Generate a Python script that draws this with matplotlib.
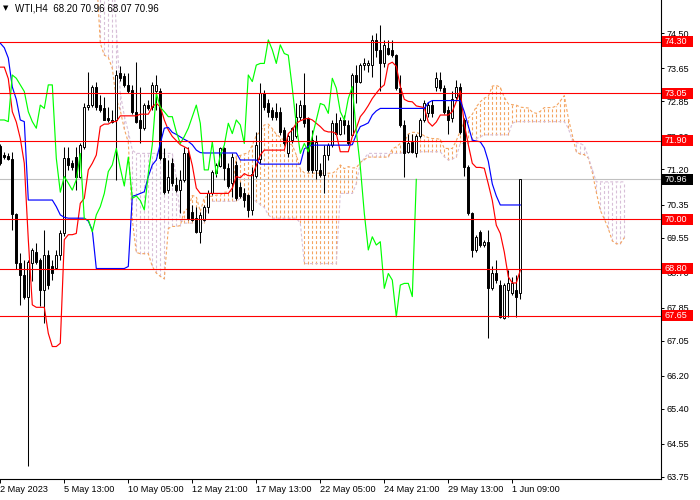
import matplotlib
matplotlib.use('Agg')
import matplotlib.pyplot as plt
import matplotlib.transforms as mtransforms
from matplotlib.patches import Rectangle
import numpy as np

plt.rcParams['font.family'] = ['Liberation Sans', 'DejaVu Sans']

# ---------------- data (WTI, H4) ----------------
opens = [
    71.77, 71.55, 71.53, 71.45, 70.11, 68.93, 68.64, 68.12, 68.93, 69.21,
    69.00, 68.28, 69.13, 68.85, 68.81, 69.13, 69.65, 71.47, 71.35, 71.51,
    71.03, 71.75, 72.72, 72.76, 73.21, 72.76, 72.68, 72.44, 72.40, 72.40,
    73.53, 73.47, 73.25, 73.13, 72.60, 72.40, 72.20, 72.76, 72.72, 73.09,
    73.09, 71.47, 70.70, 71.35, 70.83, 70.70, 70.95, 71.59, 70.18, 70.02,
    69.69, 69.98, 70.30, 70.62, 71.11, 71.28, 71.71, 71.23, 70.87, 71.31,
    70.78, 70.62, 70.58, 70.22, 71.05, 71.45, 73.05, 72.80, 72.64, 72.60,
    72.60, 72.16, 71.59, 71.91, 72.00, 72.48, 72.76, 72.44, 71.91, 71.19,
    71.19, 71.07, 71.55, 71.79, 72.32, 72.07, 72.40, 72.28, 72.04, 73.49,
    73.33, 73.73, 73.73, 73.73, 74.34, 74.10, 73.77, 74.14, 74.10, 73.97,
    73.17, 72.28, 71.63, 71.87, 71.59, 72.00, 72.40, 72.56, 72.76, 73.21,
    73.37, 73.17, 72.64, 72.44, 72.96, 73.21, 72.40, 71.27, 70.14, 69.25,
    69.69, 69.37, 69.45, 68.32, 68.68, 68.40, 67.59, 68.28, 68.20, 68.28,
    68.20]
highs = [
    71.82, 71.62, 71.60, 71.62, 70.15, 69.17, 69.00, 69.00, 69.29, 69.41,
    69.05, 69.73, 69.25, 69.00, 69.25, 69.73, 71.75, 71.75, 71.43, 71.75,
    71.83, 72.80, 73.57, 73.25, 73.33, 73.00, 72.96, 72.72, 72.64, 73.61,
    73.70, 73.53, 73.53, 73.25, 73.81, 73.21, 72.80, 72.88, 73.33, 73.49,
    73.17, 71.71, 71.43, 71.47, 71.03, 71.19, 71.75, 71.75, 70.34, 70.30,
    70.18, 70.34, 70.70, 71.19, 71.35, 71.75, 71.75, 71.35, 71.59, 71.40,
    70.90, 70.75, 70.60, 71.25, 72.10, 73.29, 73.13, 72.90, 72.72, 72.80,
    72.72, 72.24, 72.07, 72.24, 72.80, 72.88, 73.53, 72.48, 72.15, 72.04,
    71.35, 71.79, 71.83, 72.40, 72.56, 72.48, 72.52, 72.40, 73.53, 73.73,
    73.77, 73.89, 73.85, 74.46, 74.50, 74.70, 74.34, 74.34, 74.34, 74.01,
    73.49, 72.40, 72.07, 72.07, 72.07, 72.44, 72.88, 72.84, 72.88, 73.57,
    73.57, 73.25, 72.75, 73.10, 73.37, 73.29, 72.45, 71.30, 70.18, 69.61,
    69.73, 69.49, 69.73, 68.85, 69.01, 68.52, 68.44, 68.76, 68.60, 68.64,
    70.96]
lows = [
    71.30, 71.45, 71.42, 69.73, 68.80, 67.92, 68.05, 64.02, 68.50, 68.90,
    67.90, 67.47, 68.30, 68.52, 68.78, 69.00, 69.60, 71.19, 71.19, 70.70,
    71.00, 71.70, 72.64, 72.72, 72.64, 72.60, 72.40, 72.36, 72.32, 70.95,
    73.35, 73.21, 73.05, 72.55, 72.32, 71.83, 72.16, 72.64, 72.64, 72.64,
    71.43, 70.60, 70.62, 70.80, 70.65, 70.14, 70.90, 69.98, 69.94, 69.65,
    69.41, 69.94, 70.14, 70.58, 71.03, 71.27, 70.95, 70.75, 70.54, 70.45,
    70.50, 70.30, 70.05, 70.10, 71.00, 71.35, 72.64, 72.48, 72.40, 72.40,
    72.04, 71.79, 71.51, 71.83, 71.96, 72.40, 72.24, 71.15, 71.11, 70.98,
    71.03, 70.62, 71.43, 71.75, 72.04, 72.04, 72.07, 71.79, 72.00, 72.80,
    73.29, 73.61, 73.57, 73.45, 73.93, 73.09, 73.69, 73.97, 73.93, 73.13,
    72.24, 71.03, 71.59, 71.59, 71.51, 71.96, 72.36, 72.48, 72.48, 73.09,
    73.09, 72.55, 72.05, 72.35, 72.90, 72.05, 71.05, 70.10, 69.09, 69.21,
    69.33, 69.33, 67.11, 68.28, 68.44, 67.59, 67.57, 67.63, 68.16, 67.63,
    68.07]
closes = [
    71.35, 71.50, 71.45, 70.11, 68.93, 68.64, 68.10, 68.97, 69.25, 68.97,
    68.28, 69.13, 68.40, 68.68, 69.13, 69.65, 71.47, 71.31, 71.27, 71.03,
    71.79, 72.72, 72.76, 73.21, 72.72, 72.64, 72.40, 72.40, 72.36, 73.49,
    73.41, 73.25, 73.09, 72.60, 72.36, 72.20, 72.76, 72.68, 73.25, 73.25,
    71.47, 70.65, 71.03, 70.87, 70.70, 70.95, 71.59, 70.00, 69.98, 69.69,
    70.10, 70.30, 70.62, 71.15, 71.31, 71.71, 71.23, 70.80, 71.50, 70.50,
    70.56, 70.45, 70.22, 71.10, 71.80, 73.05, 72.71, 72.60, 72.48, 72.48,
    72.11, 71.83, 72.00, 72.20, 72.48, 72.76, 72.32, 71.19, 71.19, 71.87,
    71.07, 71.55, 71.79, 72.32, 72.07, 72.40, 72.28, 71.83, 73.49, 73.33,
    73.73, 73.77, 73.77, 74.34, 74.10, 73.77, 74.22, 74.01, 73.97, 73.17,
    72.28, 71.59, 71.83, 71.63, 72.00, 72.40, 72.80, 72.76, 72.56, 73.41,
    73.17, 72.60, 72.40, 72.92, 73.21, 72.12, 71.27, 70.14, 69.25, 69.57,
    69.37, 69.45, 68.32, 68.68, 68.52, 67.63, 68.40, 68.44, 68.44, 68.12,
    70.96]

tenkan = [
    73.68, 73.68, 73.40, 72.60, 72.35, 71.95, 71.35, 69.50, 67.92, 67.86,
    67.86, 67.86, 67.23, 66.91, 66.91, 66.99, 69.50, 69.62, 69.62, 69.65,
    70.38, 70.50, 71.19, 71.35, 71.55, 72.24, 72.30, 72.30, 72.36, 72.36,
    72.50, 72.50, 72.50, 72.50, 72.50, 72.54, 72.54, 72.54, 72.72, 72.80,
    72.72, 72.40, 72.16, 72.00, 71.90, 71.80, 71.75, 71.70, 71.30, 70.75,
    70.62, 70.62, 70.62, 70.62, 70.62, 70.62, 70.62, 70.62, 70.75, 71.03,
    71.00, 71.10, 71.05, 71.05, 71.30, 71.55, 71.67, 71.67, 71.67, 71.67,
    71.67, 71.67, 72.07, 72.16, 72.32, 72.38, 72.42, 72.44, 72.40, 72.32,
    72.24, 72.14, 72.11, 72.11, 72.07, 71.63, 71.63, 71.63, 72.00, 72.20,
    72.48, 72.60, 72.75, 72.92, 73.05, 73.17, 73.25, 73.75, 73.80, 73.70,
    73.21, 72.90, 72.85, 72.84, 72.74, 72.72, 72.70, 72.35, 72.25, 72.35,
    72.52, 72.52, 72.52, 72.60, 72.85, 73.10, 72.30, 71.80, 71.35, 71.25,
    71.25, 71.23, 70.85, 70.45, 69.85, 69.65, 69.20, 68.60, 68.45, 68.45,
    68.76]
kijun = [
    74.26, 74.15, 73.90, 73.20, 72.90, 72.40, 72.36, 70.46, 70.46, 70.46,
    70.46, 70.46, 70.46, 70.46, 70.30, 70.10, 70.04, 70.02, 70.02, 70.02,
    70.02, 70.02, 69.95, 69.73, 68.80, 68.80, 68.80, 68.80, 68.80, 68.80,
    68.80, 68.80, 68.85, 70.55, 70.58, 70.62, 70.66, 71.03, 71.31, 71.43,
    71.83, 72.20, 72.22, 72.10, 72.05, 71.99, 71.93, 71.88, 71.80, 71.67,
    71.61, 71.60, 71.60, 71.60, 71.60, 71.60, 71.60, 71.60, 71.60, 71.60,
    71.43, 71.43, 71.43, 71.43, 71.43, 71.33, 71.33, 71.33, 71.33, 71.33,
    71.33, 71.33, 71.33, 71.33, 71.33, 71.33, 71.70, 71.76, 71.79, 71.79,
    71.79, 71.79, 71.79, 71.79, 71.79, 71.79, 71.79, 71.79, 71.80, 72.05,
    72.24, 72.28, 72.33, 72.52, 72.62, 72.68, 72.68, 72.68, 72.68, 72.68,
    72.68, 72.68, 72.68, 72.68, 72.68, 72.68, 72.68, 72.82, 72.87, 72.87,
    72.87, 72.87, 72.87, 72.87, 72.87, 72.87, 72.60, 72.25, 71.91, 71.89,
    71.87, 71.72, 71.40, 70.85, 70.56, 70.34, 70.34, 70.34, 70.34, 70.34,
    70.34]

# cloud, bars 24 .. 156 (26 bars projected ahead)
cloud_start = 24
senkou_a = ([76.00, 74.26, 73.97, 73.92, 73.65, 72.90, 72.63, 72.18, 71.86, 69.98,
             69.19, 69.16, 69.16, 69.16, 68.85, 68.69, 68.61, 68.55, 69.77, 69.82,
             69.82, 69.84, 70.20, 70.26, 70.57, 70.54, 70.18, 70.52, 70.55, 70.55,
             70.58, 70.58, 70.65, 70.65, 70.68, 71.53, 71.54, 71.58, 71.60, 71.79,
             72.02, 72.12, 72.28, 72.30, 72.19, 72.05, 71.98, 71.90, 71.84, 71.79,
             71.55, 71.21, 71.12]
            + [71.11] * 7
            + [71.17, 71.31, 71.22, 71.27, 71.24, 71.24, 71.37, 71.44]
            + [71.50] * 6
            + [71.70, 71.75, 71.83, 71.86, 72.06, 72.10, 72.10, 72.06, 72.02, 71.97,
               71.95, 71.95, 71.93, 71.71, 71.71, 71.71, 71.90, 72.13, 72.36, 72.44,
               72.54, 72.72, 72.84, 72.93, 72.97, 73.22, 73.24, 73.19, 72.95, 72.79,
               72.77, 72.76, 72.71, 72.70, 72.69, 72.59, 72.56, 72.61, 72.70, 72.70,
               72.70, 72.74, 72.86, 72.99, 72.45, 72.03, 71.63, 71.57, 71.56, 71.48,
               71.13, 70.65, 70.21, 70.00, 69.77, 69.47, 69.40, 69.40, 69.55])
senkou_b = ([76.50] * 5
            + [74.60, 73.05, 72.50, 72.12, 71.67]
            + [71.59] * 10
            + [71.00, 70.00]
            + [69.90] * 6
            + [70.43] * 8
            + [70.50, 70.55, 70.58, 70.50, 70.42, 70.35, 70.28, 70.10]
            + [70.02] * 7
            + [69.90]
            + [68.92] * 9
            + [70.62] * 4
            + [70.86, 71.35, 71.47]
            + [71.59] * 9
            + [71.63] * 10
            + [71.51, 71.43, 71.45, 71.51]
            + [71.83] * 3
            + [71.91, 71.95, 71.99]
            + [72.04] * 7
            + [72.32]
            + [72.36] * 13
            + [72.20, 71.90, 71.85, 71.83, 71.78, 71.50, 71.20]
            + [70.90] * 8)

levels = [74.30, 73.05, 71.90, 70.00, 68.80, 67.65]
last_price = 70.96
ytick_vals = [74.50, 73.65, 72.85, 72.00, 71.20, 70.35, 69.55, 68.70,
              67.85, 67.05, 66.20, 65.40, 64.55, 63.75]
xtick_bars = [0, 16, 32, 48, 64, 80, 96, 112, 128]
xtick_labels = ['2 May 2023', '5 May 13:00', '10 May 05:00', '12 May 21:00',
                '17 May 13:00', '22 May 05:00', '24 May 21:00', '29 May 13:00',
                '1 Jun 09:00']
title = 'WTI,H4  68.20 70.96 68.07 70.96'
lag = 26

# ---------------- figure ----------------
W, H = 700, 500
fig = plt.figure(figsize=(W / 100, H / 100), dpi=100)
ax = fig.add_axes([0, 21 / H, 661 / W, 479 / H])
ax.set_xlim(-0.075, 165.175)
ax.set_ylim(63.70, 75.307)

o = np.array(opens); h = np.array(highs); l = np.array(lows); c = np.array(closes)
xb = np.arange(len(c))

dash = (0, (2.6, 2.0))
# cloud hatch
sa = np.array(senkou_a); sb = np.array(senkou_b)
xc = np.arange(cloud_start, cloud_start + len(sa))
up = sa >= sb
ax.vlines(xc[up], np.minimum(sa, sb)[up], np.maximum(sa, sb)[up],
          colors='#F4A460', linestyles=dash, lw=0.8, zorder=1)
ax.vlines(xc[~up], np.minimum(sa, sb)[~up], np.maximum(sa, sb)[~up],
          colors='#D8BFD8', linestyles=dash, lw=0.8, zorder=1)
ax.plot(xc, sa, color='#F4A460', ls=dash, lw=0.8, zorder=1.2)
ax.plot(xc, sb, color='#D8BFD8', ls=dash, lw=0.8, zorder=1.2)

# bid line
ax.axhline(last_price, color='#C0C0C0', lw=0.8, zorder=1.5)

# candles
ax.vlines(xb, l, h, colors='black', lw=0.75, zorder=3)
body_lo = np.minimum(o, c)
body_h = np.maximum(np.abs(c - o), 0.012)
fc = np.where(c >= o, 'white', 'black')
ax.bar(xb, body_h, bottom=body_lo, width=0.58, color=fc, edgecolor='black',
       linewidth=0.7, zorder=3.2)

# ichimoku lines
ax.plot(xb, tenkan, color='#FF0000', lw=0.85, zorder=4)
ax.plot(xb, kijun, color='#0000FF', lw=0.85, zorder=4)
ax.plot(xb[:-lag], c[lag:], color='#00FF00', lw=0.85, zorder=4)

# horizontal levels
for p in levels:
    ax.axhline(p, color='#FF0000', lw=0.8, zorder=5)

# axes styling
for s in ['top', 'left']:
    ax.spines[s].set_visible(False)
for s in ['right', 'bottom']:
    ax.spines[s].set_linewidth(0.8)
    ax.spines[s].set_color('black')
ax.yaxis.tick_right()
ax.set_yticks(ytick_vals)
ax.set_yticklabels([f'{v:.2f}' for v in ytick_vals])
ax.tick_params(axis='y', direction='out', length=2.3, width=0.7, pad=1.6,
               labelsize=6.5, labelcolor='black')
ax.set_xticks(xtick_bars)
ax.set_xticklabels(xtick_labels)
ax.tick_params(axis='x', direction='out', length=2.6, width=0.7, pad=1.4,
               labelsize=6.6, labelcolor='black')
for lbl in ax.get_xticklabels():
    lbl.set_horizontalalignment('left')

# price boxes on the right axis
trans = mtransforms.blended_transform_factory(ax.transAxes, ax.transData)
bh = 11 / 41.27
bw = 31 / 661
def price_box(p, face):
    ax.add_patch(Rectangle((1.0015, p - bh / 2), bw, bh, transform=trans,
                           facecolor=face, edgecolor='none', clip_on=False, zorder=10))
    ax.text(1.0058, p, f'{p:.2f}', transform=trans, color='white', fontsize=6.5,
            va='center', ha='left', clip_on=False, zorder=11)
for p in levels:
    price_box(p, '#FF0000')
price_box(last_price, 'black')

# title
fig.text(3 / W, 1 - 8.5 / H, '\u25BC', fontsize=5, family='DejaVu Sans',
         va='center', ha='left', color='black')
fig.text(15 / W, 1 - 8.5 / H, title, fontsize=7, va='center', ha='left',
         color='black')

fig.savefig('out.png', dpi=100, facecolor='white')
